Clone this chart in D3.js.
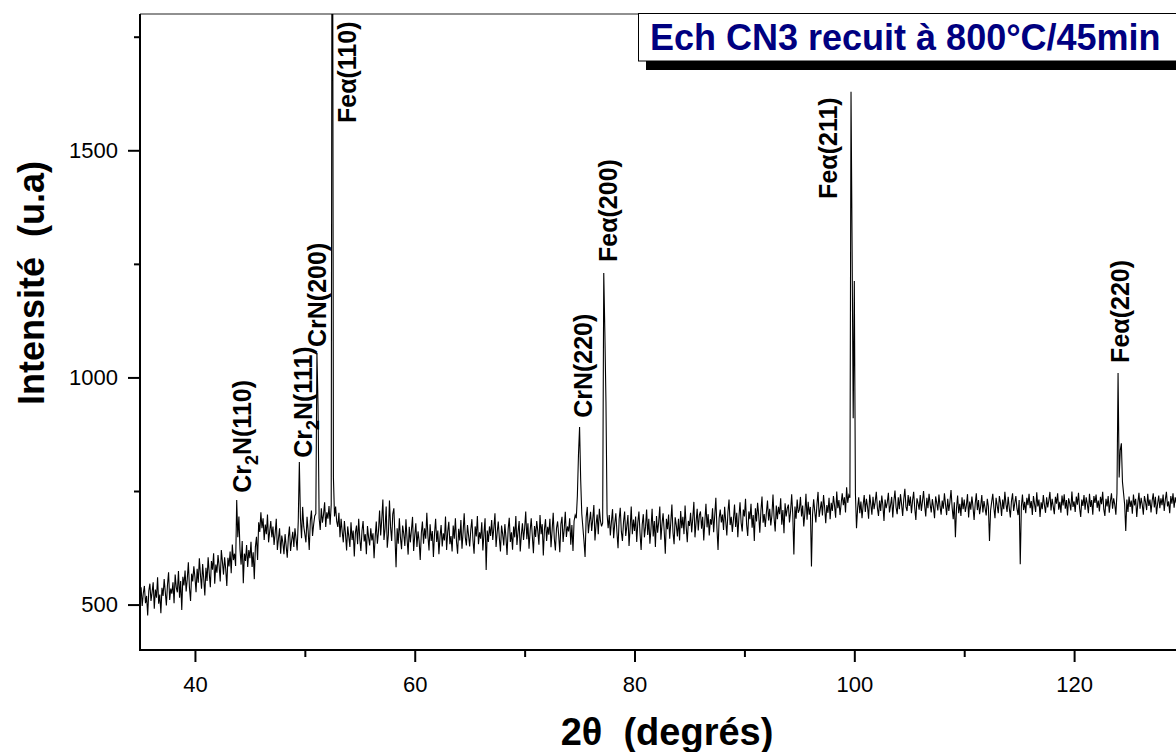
<!DOCTYPE html>
<html>
<head>
<meta charset="utf-8">
<script src="https://cdn.jsdelivr.net/npm/d3@7"></script>
<style>
  html, body { margin: 0; padding: 0; background: #fff; }
  svg { display: block; font-family: Arial, "Liberation Sans", sans-serif; }
</style>
</head>
<body>
<svg id="chart" width="1176" height="752"></svg>
<script>
// --- scan: 2theta from 35 deg, one reading every 0.1 deg ---
const thetaStart = 35;
const thetaStep = 0.1;

// intensity, one row per degree
const intensity = [
  /* 35 */ 512, 538, 497, 525, 541, 503, 519, 476, 530, 546,
  /* 36 */ 508, 527, 549, 491, 533, 515, 560, 502, 522, 481,
  /* 37 */ 537, 519, 556, 528, 498, 543, 571, 510, 535, 524,
  /* 38 */ 549, 503, 566, 538, 527, 574, 515, 552, 488, 561,
  /* 39 */ 542, 575, 529, 556, 593, 537, 508, 568, 551, 584,
  /* 40 */ 560, 527, 579, 548, 602, 566, 535, 589, 557, 520,
  /* 41 */ 581, 552, 604, 569, 538, 596, 577, 613, 546, 588,
  /* 42 */ 570, 609, 585, 551, 620, 594, 566, 604, 578, 541,
  /* 43 */ 603, 584, 617, 569, 632, 598, 612, 585, 730, 648,
  /* 44 */ 694, 621, 588, 640, 547, 612, 596, 631, 583, 620,
  /* 45 */ 602, 638, 583, 615, 556, 627, 649, 598, 681, 660,
  /* 46 */ 703, 668, 690, 642, 676, 655, 698, 637, 661, 684,
  /* 47 */ 648, 672, 631, 657, 689, 620, 645, 668, 612, 652,
  /* 48 */ 636, 611, 655, 629, 603, 647, 672, 618, 641, 660,
  /* 49 */ 627, 668, 645, 619, 683, 814, 690, 646, 715, 672,
  /* 50 */ 655, 637, 693, 662, 620, 684, 707, 651, 676, 695,
  /* 51 */ 700, 1054, 940, 690, 664, 712, 680, 698, 725, 671,
  /* 52 */ 703, 689, 717, 676, 720, 2600, 780, 694, 716, 683,
  /* 53 */ 671, 702, 648, 689, 660, 637, 684, 655, 619, 672,
  /* 54 */ 650, 627, 681, 642, 663, 606, 658, 674, 633, 689,
  /* 55 */ 645, 618, 662, 684, 639, 655, 611, 673, 648, 630,
  /* 56 */ 668, 641, 657, 602, 649, 683, 634, 661, 707, 652,
  /* 57 */ 688, 731, 642, 667, 716, 625, 654, 729, 671, 640,
  /* 58 */ 699, 712, 651, 582, 668, 634, 690, 647, 622, 674,
  /* 59 */ 656, 629, 688, 645, 610, 671, 637, 664, 693, 618,
  /* 60 */ 652, 679, 627, 661, 640, 598, 657, 683, 634, 668,
  /* 61 */ 645, 702, 651, 619, 677, 640, 662, 605, 656, 689,
  /* 62 */ 638, 663, 611, 649, 675, 628, 657, 641, 694, 620,
  /* 63 */ 660, 682, 633, 651, 617, 674, 645, 690, 639, 612,
  /* 64 */ 667, 641, 686, 623, 659, 701, 648, 630, 675, 652,
  /* 65 */ 628, 664, 688, 641, 612, 672, 650, 695, 633, 659,
  /* 66 */ 645, 681, 619, 657, 690, 576, 663, 638, 672, 651,
  /* 67 */ 686, 642, 669, 701, 627, 658, 683, 646, 617, 674,
  /* 68 */ 655, 630, 677, 648, 609, 666, 691, 638, 659, 621,
  /* 69 */ 672, 648, 695, 631, 660, 684, 617, 653, 679, 642,
  /* 70 */ 668, 705, 644, 679, 623, 662, 690, 651, 613, 673,
  /* 71 */ 649, 684, 661, 632, 697, 655, 677, 608, 665, 688,
  /* 72 */ 640, 671, 654, 689, 626, 663, 702, 645, 619, 668,
  /* 73 */ 683, 652, 615, 677, 693, 638, 666, 704, 649, 672,
  /* 74 */ 661, 690, 632, 675, 618, 684, 697, 690, 740, 830,
  /* 75 */ 891, 775, 700, 670, 640, 605, 692, 715, 657, 683,
  /* 76 */ 704, 662, 688, 719, 641, 676, 698, 655, 711, 684,
  /* 77 */ 672, 680, 1230, 1100, 946, 700, 668, 697, 652, 683,
  /* 78 */ 710, 646, 678, 701, 659, 624, 688, 713, 661, 640,
  /* 79 */ 682, 705, 651, 673, 697, 629, 668, 716, 655, 687,
  /* 80 */ 662, 694, 638, 681, 705, 657, 620, 676, 699, 648,
  /* 81 */ 671, 709, 653, 689, 634, 668, 711, 650, 684, 627,
  /* 82 */ 695, 658, 682, 716, 643, 677, 701, 662, 612, 689,
  /* 83 */ 666, 698, 645, 681, 720, 659, 633, 692, 675, 650,
  /* 84 */ 689, 641, 706, 668, 693, 655, 718, 672, 637, 684,
  /* 85 */ 673, 702, 659, 690, 726, 648, 681, 711, 663, 697,
  /* 86 */ 705, 667, 693, 641, 684, 722, 670, 699, 652, 688,
  /* 87 */ 676, 712, 659, 697, 735, 668, 620, 690, 709, 681,
  /* 88 */ 698, 664, 715, 683, 652, 704, 731, 675, 693, 660,
  /* 89 */ 687, 720, 671, 702, 648, 693, 725, 680, 661, 709,
  /* 90 */ 694, 733, 676, 651, 705, 688, 722, 669, 697, 640,
  /* 91 */ 712, 683, 724, 697, 658, 706, 738, 680, 699, 671,
  /* 92 */ 703, 729, 685, 711, 674, 696, 742, 690, 661, 718,
  /* 93 */ 688, 715, 699, 734, 676, 708, 657, 723, 694, 712,
  /* 94 */ 720, 681, 705, 743, 698, 610, 716, 689, 731, 702,
  /* 95 */ 709, 737, 694, 718, 672, 701, 744, 687, 726, 698,
  /* 96 */ 715, 584, 699, 732, 705, 681, 721, 748, 693, 710,
  /* 97 */ 727, 696, 741, 713, 679, 719, 702, 735, 688, 724,
  /* 98 */ 706, 739, 718, 691, 749, 712, 730, 697, 722, 745,
  /* 99 */ 719, 736, 703, 758, 724, 741, 735, 1629, 1280, 910,
  /*100 */ 1212, 745, 668, 712, 736, 701, 727, 690, 718, 741,
  /*101 */ 704, 733, 716, 689, 742, 721, 698, 737, 710, 726,
  /*102 */ 748, 713, 695, 729, 706, 740, 718, 684, 731, 712,
  /*103 */ 725, 746, 703, 719, 737, 692, 728, 751, 714, 699,
  /*104 */ 736, 710, 743, 721, 695, 732, 755, 715, 706, 741,
  /*105 */ 717, 738, 701, 729, 748, 712, 686, 734, 723, 709,
  /*106 */ 741, 706, 727, 750, 718, 694, 735, 712, 744, 721,
  /*107 */ 703, 732, 715, 690, 738, 724, 707, 742, 716, 698,
  /*108 */ 729, 711, 745, 720, 697, 733, 706, 726, 752, 714,
  /*109 */ 688, 725, 648, 712, 740, 701, 722, 695, 736, 710,
  /*110 */ 731, 704, 719, 743, 692, 727, 709, 738, 715, 686,
  /*111 */ 722, 745, 708, 730, 699, 717, 741, 703, 728, 712,
  /*112 */ 696, 733, 716, 640, 707, 726, 744, 713, 690, 735,
  /*113 */ 718, 701, 739, 724, 695, 731, 710, 748, 721, 704,
  /*114 */ 737, 713, 692, 728, 745, 706, 723, 739, 711, 697,
  /*115 */ 730, 589, 716, 742, 708, 726, 701, 735, 719, 744,
  /*116 */ 712, 728, 697, 739, 721, 704, 747, 716, 731, 693,
  /*117 */ 725, 710, 741, 719, 702, 736, 714, 729, 748, 707,
  /*118 */ 733, 716, 699, 737, 722, 745, 709, 726, 702, 740,
  /*119 */ 718, 743, 711, 730, 696, 734, 723, 707, 749, 715,
  /*120 */ 727, 704, 738, 720, 746, 712, 693, 731, 717, 741,
  /*121 */ 709, 736, 722, 701, 744, 715, 730, 698, 739, 724,
  /*122 */ 742, 713, 729, 705, 737, 721, 748, 710, 695, 733,
  /*123 */ 716, 739, 702, 727, 745, 711, 734, 720, 698, 745,
  /*124 */ 1010, 780, 840, 855, 770, 745, 720, 662, 731, 704,
  /*125 */ 738, 715, 729, 700, 742, 718, 733, 693, 724, 746,
  /*126 */ 711, 735, 720, 698, 739, 726, 708, 744, 717, 731,
  /*127 */ 703, 728, 745, 714, 737, 699, 722, 740, 712, 734,
  /*128 */ 719, 742, 706, 731, 748, 716, 727, 701, 739, 722,
  /*129 */ 745, 713, 736, 724, 750, 708, 741, 729, 752, 718,
  /*130 */ 735
];

// peak labels: text ("_2" = subscript 2), where the label starts (2theta, intensity)
const peakNames = ["Cr_2N(110)", "Cr_2N(111)", "CrN(200)", "Feα(110)", "CrN(220)", "Feα(200)", "Feα(211)", "Feα(220)"];
const peakLabelTheta = [45.1, 50.65, 51.93, 54.66, 76.13, 78.41, 98.43, 125.0];
const peakLabelInt = [746, 823, 1067, 1560, 911, 1254, 1393, 1032];

const xMajor = [40, 60, 80, 100, 120];
const xMinor = [50, 70, 90, 110];
const yMajor = [500, 1000, 1500];
const yMinor = [750, 1250, 1750];

const title = "Ech CN3 recuit à 800°C/45min";
const xTitle = "2θ  (degrés)";
const yTitle = "Intensité  (u.a)";

// --- scales ---
const svg = d3.select("#chart");
const x = d3.scaleLinear().domain([35, 130]).range([140, 1184]);
const y = d3.scaleLinear().domain([400, 1800]).range([650, 14]);

svg.append("rect").attr("width", 1176).attr("height", 752).attr("fill", "#fff");

svg.append("clipPath").attr("id", "plot-clip")
  .append("rect").attr("x", 140).attr("y", 14).attr("width", 1044).attr("height", 636);

// top frame line
svg.append("line").attr("x1", 140).attr("x2", 1184).attr("y1", 14).attr("y2", 14)
  .attr("stroke", "#222").attr("stroke-width", 1.2);

// --- the pattern ---
const scan = intensity.map((v, i) => ({ t: thetaStart + i * thetaStep, v }));
const line = d3.line().x(d => x(d.t)).y(d => y(d.v));
svg.append("path").datum(scan)
  .attr("clip-path", "url(#plot-clip)")
  .attr("fill", "none").attr("stroke", "#000").attr("stroke-width", 1.1)
  .attr("stroke-linejoin", "miter")
  .attr("d", line);

// --- axes ---
function styleAxis(g, size) {
  g.select(".domain").remove();
  g.selectAll(".tick line").attr("stroke", "#000").attr("stroke-width", 2);
  g.selectAll(".tick text").attr("fill", "#000").style("font-size", size + "px")
    .style("font-family", "Arial, 'Liberation Sans', sans-serif");
}

svg.append("g").attr("transform", "translate(0,650)")
  .call(d3.axisBottom(x).tickValues(xMajor).tickSize(12).tickPadding(14).tickFormat(d3.format("d")))
  .call(g => styleAxis(g, 22));
svg.append("g").attr("transform", "translate(0,650)")
  .call(d3.axisBottom(x).tickValues(xMinor).tickSize(7).tickFormat(""))
  .call(g => styleAxis(g, 22));

svg.append("g").attr("transform", "translate(140,0)")
  .call(d3.axisLeft(y).tickValues(yMajor).tickSize(12).tickPadding(10).tickFormat(d3.format("d")))
  .call(g => styleAxis(g, 22));
svg.append("g").attr("transform", "translate(140,0)")
  .call(d3.axisLeft(y).tickValues(yMinor).tickSize(6).tickFormat(""))
  .call(g => styleAxis(g, 22));

// axis lines
svg.append("line").attr("x1", 140).attr("x2", 140).attr("y1", 14).attr("y2", 651)
  .attr("stroke", "#000").attr("stroke-width", 2);
svg.append("line").attr("x1", 139).attr("x2", 1184).attr("y1", 650).attr("y2", 650)
  .attr("stroke", "#000").attr("stroke-width", 2.2);

// axis titles
svg.append("text").attr("x", 667).attr("y", 745).attr("text-anchor", "middle")
  .style("font-size", "38px").style("font-weight", "bold").style("white-space", "pre")
  .text(xTitle);
svg.append("text").attr("transform", "translate(44,283) rotate(-90)").attr("text-anchor", "middle")
  .style("font-size", "36px").style("font-weight", "bold").style("white-space", "pre")
  .text(yTitle);

// --- peak labels ---
peakNames.forEach((name, i) => {
  const t = svg.append("text")
    .attr("transform", `translate(${x(peakLabelTheta[i])},${y(peakLabelInt[i])}) rotate(-90)`)
    .style("font-size", "25px").style("font-weight", "bold");
  const parts = name.split("_2");
  if (parts.length > 1) {
    t.append("tspan").text(parts[0]);
    t.append("tspan").attr("dy", 7).style("font-size", "18px").text("2");
    t.append("tspan").attr("dy", -7).text(parts[1]);
  } else {
    t.text(name);
  }
});

// --- title box with its shadow ---
svg.append("rect").attr("x", 646).attr("y", 61).attr("width", 540).attr("height", 9).attr("fill", "#000");
svg.append("rect").attr("x", 638.5).attr("y", 13.5).attr("width", 560).attr("height", 47.5)
  .attr("fill", "#fff").attr("stroke", "#000").attr("stroke-width", 1);
svg.append("text").attr("x", 650).attr("y", 50)
  .attr("fill", "#000080").style("font-size", "36px").style("font-weight", "bold")
  .text(title);
</script>
</body>
</html>
